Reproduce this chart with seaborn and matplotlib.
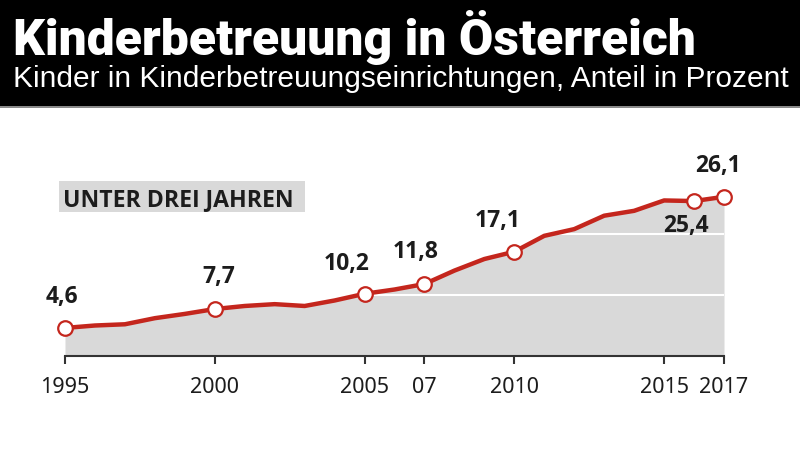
import matplotlib
matplotlib.use("Agg")
import matplotlib.pyplot as plt
from matplotlib import font_manager
from matplotlib.patches import Rectangle
import seaborn as sns
import pandas as pd

# ---------------- data ----------------
years = list(range(1995, 2018))
values = [4.6, 5.0, 5.2, 6.2, 6.9, 7.7, 8.2, 8.5, 8.2, 9.1, 10.2, 10.9,
          11.8, 14.0, 15.9, 17.1, 19.7, 20.8, 23.0, 23.8, 25.5, 25.4, 26.1]
label_years = [1995, 2000, 2005, 2007, 2010, 2016, 2017]
label_texts = ["4,6", "7,7", "10,2", "11,8", "17,1", "25,4", "26,1"]
tick_years = [1995, 2000, 2005, 2007, 2010, 2015, 2017]
tick_labels = ["1995", "2000", "2005", "07", "2010", "2015", "2017"]
grid_values = [10, 20]
title = "Kinderbetreuung in Österreich"
subtitle = "Kinder in Kinderbetreuungseinrichtungen, Anteil in Prozent"
series_label = "UNTER DREI JAHREN"

# label offsets in points (layout only)
label_offsets = [(-2, 23), (3, 24), (-13, 22), (-6, 24), (-12, 23), (-6, -17), (-4, 23)]

df = pd.DataFrame({"year": years, "value": values})
lab = df[df["year"].isin(label_years)].reset_index(drop=True)

names = {f.name for f in font_manager.fontManager.ttflist}
narrow = "Liberation Sans Narrow" if "Liberation Sans Narrow" in names else None
boldfam = ["Open Sans", "Liberation Sans", "DejaVu Sans"] if "Open Sans" in names else ["Liberation Sans", "DejaVu Sans"]

RED = "#c4261d"
FILL = "#d9d9d9"
TXT = "#1c1c1c"

sns.set_theme(style="white")
plt.rcParams["font.family"] = ["Noto Sans", "DejaVu Sans"]

W, H = 800, 452
fig = plt.figure(figsize=(W / 100, H / 100), dpi=100)
fig.patch.set_facecolor("white")

def fx(px):
    return px / W

def fy(py):
    return 1 - py / H

# header band
fig.patches.append(Rectangle((0, fy(107)), 1, 107 / H, transform=fig.transFigure,
                             facecolor="black", edgecolor="none", zorder=0))
fig.patches.append(Rectangle((0, fy(108.5)), 1, 1.5 / H, transform=fig.transFigure,
                             facecolor="#8a8a8a", edgecolor="none", zorder=0))

if narrow:
    t_title = fig.text(fx(13), fy(55), title, color="white", fontsize=36,
                       family=narrow, fontweight="bold", va="baseline", ha="left")
else:
    t_title = fig.text(fx(13), fy(55), title, color="white", fontsize=36,
                       family="Roboto", fontweight="black", va="baseline", ha="left")
t_sub = fig.text(fx(13), fy(87), subtitle, color="white", fontsize=20,
                 family="Liberation Sans", va="baseline", ha="left")

# series label box
fig.patches.append(Rectangle((fx(59), fy(213)), 246 / W, 31 / H, transform=fig.transFigure,
                             facecolor=FILL, edgecolor="none", zorder=1))
t_box = fig.text(fx(63), fy(197.5), series_label, color=TXT, fontsize=16,
                 family=boldfam, fontweight="bold", va="center_baseline", ha="left", zorder=2)

# axes: 1995 -> px 65, 2017 -> px 724 ; y 0 -> px 357, 30 -> px 174
ax = fig.add_axes([fx(65), (H - 357) / H, (724 - 65) / W, 183 / H])
ax.set_facecolor("none")
ax.set_xlim(1995, 2017)
ax.set_ylim(0, 30)

ax.fill_between(df["year"], 0, df["value"], color=FILL, linewidth=0, zorder=1)
for g in grid_values:
    ax.axhline(g, color="white", linewidth=1.5, zorder=2)
sns.lineplot(data=df, x="year", y="value", ax=ax, color=RED, linewidth=3.2,
             zorder=3, clip_on=False)
sns.scatterplot(data=lab, x="year", y="value", ax=ax, s=110, facecolor="white",
                edgecolor=RED, linewidth=1.6, zorder=4, clip_on=False)

for i, row in lab.iterrows():
    dx, dy = label_offsets[i]
    ax.annotate(label_texts[i], (row["year"], row["value"]), xytext=(dx, dy),
                textcoords="offset points", ha="center", va="center",
                fontsize=16.5, family=boldfam, fontweight="bold", color=TXT,
                annotation_clip=False)

ax.set_xticks(tick_years)
ax.set_xticklabels(tick_labels)
ax.set_yticks([])
ax.set_xlabel("")
ax.set_ylabel("")
for s in ["top", "left", "right"]:
    ax.spines[s].set_visible(False)
ax.spines["bottom"].set_color("#333333")
ax.spines["bottom"].set_linewidth(1.5)
ax.spines["bottom"].set_zorder(5)
ax.tick_params(axis="x", direction="out", length=6, width=1.5, color="#333333",
               pad=8.5, labelsize=15.5, labelcolor=TXT, bottom=True)
for tl in ax.get_xticklabels():
    if narrow:
        tl.set_family(narrow)
        tl.set_fontsize(18)

# fit header texts to measured widths
fig.canvas.draw()
r = fig.canvas.get_renderer()
for t, target in [(t_title, 682), (t_sub, 772), (t_box, 230)]:
    w = t.get_window_extent(r).width
    t.set_fontsize(t.get_fontsize() * target / w)

fig.savefig("out.png", dpi=100)
